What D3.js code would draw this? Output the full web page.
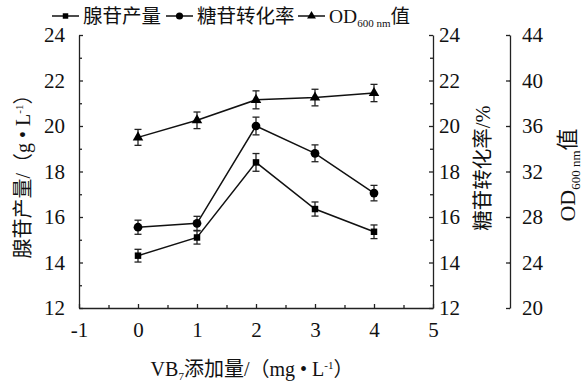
<!DOCTYPE html>
<html>
<head>
<meta charset="utf-8">
<script src="https://cdn.jsdelivr.net/npm/d3@7"></script>
<style>
  body { margin: 0; background: #fff; }
  svg { display: block; }
  text { font-family: "Liberation Serif", "Noto Sans CJK SC", serif; fill: #111; }
</style>
</head>
<body>
<svg></svg>
<script>
const width = 584;
const height = 388;

// data
const doses = [0, 1, 2, 3, 4];
const adenosine = [14.3, 15.1, 18.4, 16.35, 15.35];
const adenosineErr = [0.28, 0.29, 0.39, 0.31, 0.3];
const conversion = [15.55, 15.72, 20.0, 18.8, 17.05];
const conversionErr = [0.31, 0.31, 0.39, 0.37, 0.34];
const od600 = [35.0, 36.5, 38.3, 38.5, 38.9];
const od600Err = [0.7, 0.73, 0.79, 0.73, 0.76];
const xTicks = [-1, 0, 1, 2, 3, 4, 5];
const yTicks = [12, 14, 16, 18, 20, 22, 24];
const odTicks = [20, 24, 28, 32, 36, 40, 44];

const plotLeft = 79, plotRight = 433, plotTop = 35, plotBottom = 308;
const odAxisX = 510;

let svg = d3.select("svg").attr("width", width).attr("height", height);

let x = d3.scaleLinear().domain([-1, 5]).range([plotLeft, plotRight]);
let y = d3.scaleLinear().domain([12, 24]).range([plotBottom, plotTop]);
let yOD = d3.scaleLinear().domain([20, 44]).range([plotBottom, plotTop]);

const plain = (d) => String(d);

function styleAxis(g) {
    g.selectAll("path, line").attr("stroke", "#222").attr("stroke-width", 1.3);
    g.selectAll("text").style("font-size", "21px").style("fill", "#111");
}

// minor ticks
svg.append("g").attr("transform", `translate(0,${plotBottom})`)
    .call(d3.axisBottom(x).tickValues(d3.range(-0.5, 5, 1)).tickSize(-3).tickFormat(""))
    .call(g => g.select(".domain").remove())
    .call(styleAxis);
svg.append("g").attr("transform", `translate(${plotLeft},0)`)
    .call(d3.axisLeft(y).tickValues(d3.range(13, 24, 2)).tickSize(-3).tickFormat(""))
    .call(g => g.select(".domain").remove())
    .call(styleAxis);
svg.append("g").attr("transform", `translate(${plotRight},0)`)
    .call(d3.axisRight(y).tickValues(d3.range(13, 24, 2)).tickSize(-3).tickFormat(""))
    .call(g => g.select(".domain").remove())
    .call(styleAxis);

// main axes
svg.append("g").attr("transform", `translate(0,${plotBottom})`)
    .call(d3.axisBottom(x).tickValues(xTicks).tickFormat(plain).tickSizeInner(-4).tickSizeOuter(0).tickPadding(14))
    .call(styleAxis);
svg.append("g").attr("transform", `translate(${plotLeft},0)`)
    .call(d3.axisLeft(y).tickValues(yTicks).tickFormat(plain).tickSizeInner(-4).tickSizeOuter(0).tickPadding(14))
    .call(styleAxis);
svg.append("g").attr("transform", `translate(${plotRight},0)`)
    .call(d3.axisRight(y).tickValues(yTicks).tickFormat(plain).tickSizeInner(-4).tickSizeOuter(0).tickPadding(6))
    .call(styleAxis);
svg.append("g").attr("transform", `translate(${odAxisX},0)`)
    .call(d3.axisRight(yOD).tickValues(odTicks).tickFormat(plain).tickSizeInner(-4).tickSizeOuter(0).tickPadding(12))
    .call(styleAxis);

// series
const series = [
    { vals: adenosine, err: adenosineErr, scale: y, shape: d3.symbolSquare, size: 42 },
    { vals: conversion, err: conversionErr, scale: y, shape: d3.symbolCircle, size: 60 },
    { vals: od600, err: od600Err, scale: yOD, shape: d3.symbolTriangle, size: 48 }
];

let line = d3.line().x((d) => x(d.x)).y((d) => d.y);

series.forEach((s) => {
    const pts = doses.map((d, i) => ({ x: d, v: s.vals[i], e: s.err[i], y: s.scale(s.vals[i]) }));
    svg.append("path")
        .attr("d", line(pts))
        .attr("fill", "none")
        .attr("stroke", "#111")
        .attr("stroke-width", 1.5);
    let eb = svg.append("g").attr("stroke", "#222").attr("stroke-width", 1.3);
    pts.forEach((p) => {
        const y1 = s.scale(p.v + p.e), y2 = s.scale(p.v - p.e);
        eb.append("line").attr("x1", x(p.x)).attr("x2", x(p.x)).attr("y1", y1).attr("y2", y2);
        eb.append("line").attr("x1", x(p.x) - 3.5).attr("x2", x(p.x) + 3.5).attr("y1", y1).attr("y2", y1);
        eb.append("line").attr("x1", x(p.x) - 3.5).attr("x2", x(p.x) + 3.5).attr("y1", y2).attr("y2", y2);
    });
    svg.append("g").selectAll("path")
        .data(pts)
        .join("path")
        .attr("d", d3.symbol().type(s.shape).size(s.size))
        .attr("transform", (p) => `translate(${x(p.x)},${p.y})`)
        .attr("fill", "#000");
});

// legend
const legendItems = [
    { shape: d3.symbolSquare, size: 30, x: 52, label: "腺苷产量" },
    { shape: d3.symbolCircle, size: 40, x: 166, label: "糖苷转化率" },
    { shape: d3.symbolTriangle, size: 34, x: 298, label: "OD" }
];
legendItems.forEach((it) => {
    let g = svg.append("g").attr("transform", `translate(${it.x},16)`);
    g.append("line").attr("x1", 0).attr("x2", 27).attr("stroke", "#111").attr("stroke-width", 1.5);
    g.append("path").attr("d", d3.symbol().type(it.shape).size(it.size)).attr("transform", "translate(13.5,0)");
    let t = g.append("text").attr("x", 31).attr("y", 7).style("font-size", "19.5px");
    if (it.label === "OD") {
        t.append("tspan").text("OD");
        t.append("tspan").attr("dy", 4).style("font-size", "11px").text("600 nm");
        t.append("tspan").attr("dy", -4).text("值");
    } else {
        t.text(it.label);
    }
});

// axis titles
svg.append("text")
    .attr("transform", `translate(30,${(plotTop + plotBottom) / 2}) rotate(-90)`)
    .attr("text-anchor", "middle")
    .style("font-size", "20px")
    .call(t => {
        t.append("tspan").text("腺苷产量/（g • L");
        t.append("tspan").attr("dy", -7).style("font-size", "11px").text("-1");
        t.append("tspan").attr("dy", 7).text("）");
    });

svg.append("text")
    .attr("transform", `translate(490,168) rotate(-90)`)
    .attr("text-anchor", "middle")
    .style("font-size", "20.5px")
    .text("糖苷转化率/%");

svg.append("text")
    .attr("transform", `translate(575,175) rotate(-90)`)
    .attr("text-anchor", "middle")
    .style("font-size", "22px")
    .call(t => {
        t.append("tspan").text("OD");
        t.append("tspan").attr("dy", 5).style("font-size", "13px").text("600 nm");
        t.append("tspan").attr("dy", -5).text("值");
    });

svg.append("text")
    .attr("x", 252)
    .attr("y", 376)
    .attr("text-anchor", "middle")
    .style("font-size", "20px")
    .call(t => {
        t.append("tspan").text("VB");
        t.append("tspan").attr("dy", 4).style("font-size", "11px").text("7");
        t.append("tspan").attr("dy", -4).text("添加量/（mg • L");
        t.append("tspan").attr("dy", -7).style("font-size", "11px").text("-1");
        t.append("tspan").attr("dy", 7).text("）");
    });
</script>
</body>
</html>
